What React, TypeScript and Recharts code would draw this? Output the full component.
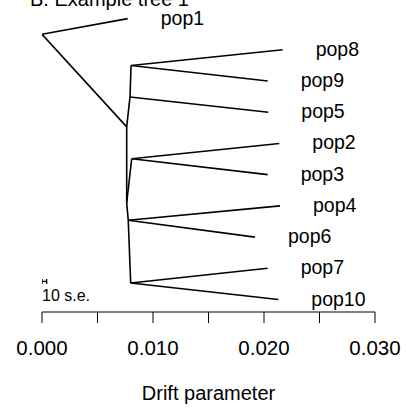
import React from 'react';
import { ComposedChart, Line, Scatter, XAxis, YAxis, Label } from 'recharts';

// Tree nodes: drift (x) and vertical row position (y)
const nodeNames = ['root', 'pop1', 'n1', 'nB', 'nA', 'pop8', 'pop9', 'pop5', 'n3', 'n23', 'pop2', 'pop3', 'nC', 'pop4', 'pop6', 'nD', 'pop7', 'pop10'];
const nodeDrift = [0, 0.00772, 0.00763, 0.00793, 0.00802, 0.02168, 0.02033, 0.02039, 0.00763, 0.00808, 0.02138, 0.02033, 0.00777, 0.02144, 0.01919, 0.00799, 0.02033, 0.02129];
const nodeRow = [0.5, 0, 3.47, 2.51, 1.5, 1, 2, 3, 5.9, 4.49, 4, 5, 6.46, 6, 7, 8.47, 8, 9];

// Edges (parent -> child)
const edgeParents = ['root', 'root', 'n1', 'nB', 'nA', 'nA', 'nB', 'n1', 'n3', 'n23', 'n23', 'n3', 'nC', 'nC', 'nC', 'nD', 'nD'];
const edgeChildren = ['pop1', 'n1', 'nB', 'nA', 'pop8', 'pop9', 'pop5', 'n3', 'n23', 'pop2', 'pop3', 'nC', 'pop4', 'pop6', 'nD', 'pop7', 'pop10'];

// Leaves
const leafNames = ['pop1', 'pop8', 'pop9', 'pop5', 'pop2', 'pop3', 'pop4', 'pop6', 'pop7', 'pop10'];

// Axis
const tickValues = [0, 0.005, 0.01, 0.015, 0.02, 0.025, 0.03];
const tickLabels = ['0.000', '', '0.010', '', '0.020', '', '0.030'];

// Scale bar (10 s.e.)
const seBarDrift = [0, 0.00042];
const seBarRow = 8.42;
const seBarLabel = '10 s.e.';

const FONT = '"Liberation Sans", Arial, Helvetica, sans-serif';

const idx = (n: string) => nodeNames.indexOf(n);
const pt = (n: string) => ({ x: nodeDrift[idx(n)], y: nodeRow[idx(n)] });

const edges = edgeParents.map((p, i) => [pt(p), pt(edgeChildren[i])]);
const leaves = leafNames.map((n) => ({ ...pt(n), name: n }));
const seBar = [
  { x: seBarDrift[0], y: seBarRow },
  { x: seBarDrift[1], y: seBarRow },
];
const seTickL = [
  { x: seBarDrift[0], y: seBarRow - 0.08 },
  { x: seBarDrift[0], y: seBarRow + 0.08 },
];
const seTickR = [
  { x: seBarDrift[1], y: seBarRow - 0.08 },
  { x: seBarDrift[1], y: seBarRow + 0.08 },
];
const seText = [{ x: seBarDrift[0], y: seBarRow, name: seBarLabel }];

const LeafLabel = (props: any) => (
  <text x={props.cx + 33} y={props.cy + 6} fontSize={19.5} fontFamily={FONT} fill="#000">
    {props.payload.name}
  </text>
);

const SeLabel = (props: any) => (
  <text x={props.cx} y={props.cy + 20} fontSize={16} fontFamily={FONT} fill="#000">
    {props.payload.name}
  </text>
);

const Tick = (props: any) => {
  const i = tickValues.indexOf(props.payload.value);
  return (
    <text x={props.x} y={props.y + 32} textAnchor="middle" fontSize={20.5} fontFamily={FONT} fill="#000">
      {tickLabels[i]}
    </text>
  );
};

export default function App() {
  return (
    <div style={{ position: 'absolute', left: 0, top: 0, width: 406, height: 416, background: '#fff', overflow: 'hidden' }}>
      <div
        style={{
          position: 'absolute',
          left: 30,
          top: -11,
          fontFamily: FONT,
          fontSize: 20,
          lineHeight: '20px',
          whiteSpace: 'nowrap',
          color: '#000',
        }}
      >
        B. Example tree 1
      </div>
      <ComposedChart width={406} height={416} margin={{ top: 3, left: 42, right: 31, bottom: 0 }}>
        <XAxis
          type="number"
          dataKey="x"
          domain={[0, 0.03]}
          ticks={tickValues}
          allowDataOverflow
          height={104}
          tickSize={11}
          tickMargin={0}
          axisLine={{ stroke: '#000', strokeWidth: 1 }}
          tickLine={{ stroke: '#000', strokeWidth: 1 }}
          tick={<Tick />}
          interval={0}
        >
          <Label value="Drift parameter" position="insideBottom" offset={16} fontSize={20} fontFamily={FONT} fill="#000" />
        </XAxis>
        <YAxis type="number" dataKey="y" domain={[-0.5, 9.4]} reversed hide allowDataOverflow />
        {edges.map((e, i) => (
          <Line
            key={'e' + i}
            data={e}
            dataKey="y"
            type="linear"
            stroke="#000"
            strokeWidth={1.6}
            dot={false}
            activeDot={false}
            isAnimationActive={false}
          />
        ))}
        <Line data={seBar} dataKey="y" stroke="#000" strokeWidth={1.3} dot={false} activeDot={false} isAnimationActive={false} />
        <Line data={seTickL} dataKey="y" stroke="#000" strokeWidth={1.3} dot={false} activeDot={false} isAnimationActive={false} />
        <Line data={seTickR} dataKey="y" stroke="#000" strokeWidth={1.3} dot={false} activeDot={false} isAnimationActive={false} />
        <Scatter data={leaves} dataKey="y" shape={<LeafLabel />} isAnimationActive={false} />
        <Scatter data={seText} dataKey="y" shape={<SeLabel />} isAnimationActive={false} />
      </ComposedChart>
    </div>
  );
}
